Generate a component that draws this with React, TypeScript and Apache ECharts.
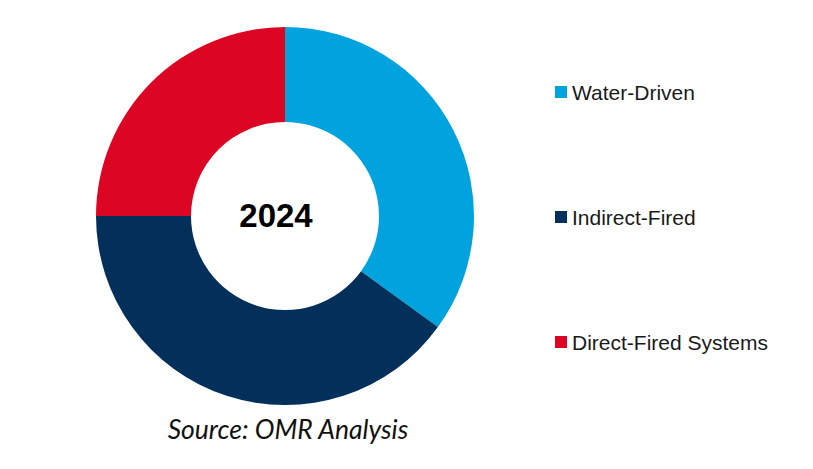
import * as echarts from 'echarts';
import { useEffect, useRef } from 'react';

const categories = ['Water-Driven', 'Indirect-Fired', 'Direct-Fired Systems'];
const shares = [35, 40, 25];
const colors = ['#00A3DD', '#02305A', '#DC0523'];
const centerLabel = '2024';
const sourceText = 'Source: OMR Analysis';

export default function App() {
  const chartRef = useRef<HTMLDivElement>(null);

  useEffect(() => {
    document.body.style.margin = '0';
    if (!chartRef.current) return;
    const chart = echarts.init(chartRef.current, undefined, { renderer: 'svg' });
    chart.setOption({
      animation: false,
      backgroundColor: '#fff',
      legend: {
        orient: 'vertical',
        left: 555,
        top: 80,
        padding: 0,
        itemWidth: 12,
        itemHeight: 12,
        itemGap: 101,
        icon: 'rect',
        selectedMode: false,
        data: categories,
        textStyle: {
          color: '#1a1a1a',
          fontSize: 21,
          lineHeight: 24,
          fontFamily: '"Liberation Sans", Arial, sans-serif',
        },
      },
      series: [
        {
          type: 'pie',
          center: [285, 216],
          radius: [94, 189],
          startAngle: 90,
          clockwise: true,
          label: { show: false },
          labelLine: { show: false },
          emphasis: { disabled: true },
          data: categories.map((name, i) => ({
            name,
            value: shares[i],
            itemStyle: { color: colors[i] },
          })),
        },
      ],
      graphic: [
        {
          type: 'text',
          x: 276,
          y: 215,
          style: {
            text: centerLabel,
            fill: '#000',
            font: 'bold 33px "Liberation Sans", Arial, sans-serif',
            align: 'center',
            verticalAlign: 'middle',
          },
        },
        {
          type: 'text',
          x: 288,
          y: 429,
          style: {
            text: sourceText,
            fill: '#111',
            font: 'italic 26.5px Lato, "Open Sans", sans-serif',
            align: 'center',
            verticalAlign: 'middle',
          },
        },
      ],
    });
    return () => {
      chart.dispose();
    };
  }, []);

  return <div ref={chartRef} style={{ width: 813, height: 469 }} />;
}
